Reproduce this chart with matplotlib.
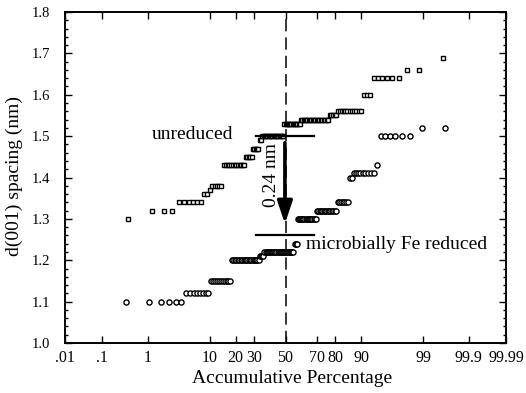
import numpy as np
import matplotlib
matplotlib.use("Agg")
import matplotlib.pyplot as plt
from matplotlib.ticker import MultipleLocator
from statistics import NormalDist

# d(001) values and how many grains sit at each value
unred_d = [1.30, 1.32, 1.34, 1.36, 1.37, 1.38, 1.43, 1.45, 1.47, 1.49,
           1.50, 1.53, 1.54, 1.55, 1.56, 1.60, 1.64, 1.66, 1.69]
unred_n = [1, 3, 6, 2, 1, 5, 13, 5, 5, 2, 18, 14, 21, 5, 12, 3, 6, 2, 1]

red_d = [1.10, 1.12, 1.15, 1.20, 1.21, 1.22, 1.24, 1.30, 1.32, 1.34,
         1.40, 1.41, 1.43, 1.50, 1.52]
red_n = [6, 8, 11, 21, 4, 28, 3, 17, 15, 7, 2, 9, 1, 6, 2]

# medians
unred_med = 1.50
red_med = 1.26

tick_pos = [0.01, 0.1, 1, 10, 20, 30, 50, 70, 80, 90, 99, 99.9, 99.99]
tick_lab = ['.01', '.1', '1', '10', '20', '30', '50', '70', '80', '90',
            '99', '99.9', '99.99']

ND = NormalDist()


def _fwd(p):
    p = np.asarray(p, dtype=float)
    out = np.full(p.shape, np.nan)
    ok = np.isfinite(p)
    q = np.clip(p[ok] / 100.0, 1e-9, 1 - 1e-9)
    out[ok] = [ND.inv_cdf(v) for v in q.ravel()]
    return out


def _inv(z):
    z = np.asarray(z, dtype=float)
    out = np.full(z.shape, np.nan)
    ok = np.isfinite(z)
    out[ok] = [ND.cdf(v) * 100.0 for v in z[ok].ravel()]
    return out


def cum_pct(d, n):
    vals = np.repeat(d, n)
    N = len(vals)
    pct = (np.arange(1, N + 1) - 0.5) / N * 100.0
    return pct, vals


def main():
    plt.rcParams['font.family'] = ['Liberation Serif', 'DejaVu Serif']

    fig = plt.figure(figsize=(5.26, 3.93), dpi=100)
    ax = fig.add_axes([0.1236, 0.1272, 0.8384, 0.8422])
    ax.set_xscale('function', functions=(_fwd, _inv))

    x1, y1 = cum_pct(unred_d, unred_n)
    x2, y2 = cum_pct(red_d, red_n)

    ax.plot(x1, y1, ls='none', marker='s', ms=3.3, mfc='white',
            mec='black', mew=1.0)
    ax.plot(x2, y2, ls='none', marker='o', ms=3.7, mfc='white',
            mec='black', mew=1.0)

    # median guide lines
    ax.axvline(50, color='black', lw=1.1, dashes=(8, 4))
    ax.plot([30.7, 68.5], [unred_med, unred_med], color='black', lw=1.6)
    ax.plot([30.7, 68.5], [red_med, red_med], color='black', lw=1.6)

    ax.annotate('', xy=(49.6, 1.288), xytext=(49.6, 1.484),
                arrowprops=dict(arrowstyle='-|>,head_length=0.75,head_width=0.25',
                                lw=2.6, color='black', mutation_scale=18,
                                shrinkA=0, shrinkB=0))

    ax.text(40.7, 1.405, '0.24 nm', rotation=90, ha='center', va='center',
            fontsize=14)
    ax.text(1.2, 1.505, 'unreduced', ha='left', va='center', fontsize=14)
    ax.text(63.7, 1.237, 'microbially Fe reduced', ha='left', va='center',
            fontsize=14)

    ax.set_xlim(0.01, 99.99)
    ax.set_ylim(1.0, 1.8)
    ax.set_xticks(tick_pos)
    ax.set_xticklabels(tick_lab)
    ax.xaxis.set_minor_locator(plt.NullLocator())
    ax.yaxis.set_major_locator(MultipleLocator(0.1))
    ax.yaxis.set_minor_locator(MultipleLocator(0.02))
    ax.yaxis.set_major_formatter(plt.FormatStrFormatter('%.1f'))

    ax.tick_params(which='both', direction='in', top=True, right=True,
                   width=1)
    ax.tick_params(which='major', length=5)
    ax.tick_params(which='minor', length=2.5)
    ax.tick_params(axis='x', labelsize=11.5, pad=5)
    ax.tick_params(axis='y', labelsize=10.5, pad=11)
    for s in ax.spines.values():
        s.set_linewidth(1.4)

    ax.set_xlabel('Accumulative Percentage', fontsize=14)
    ax.set_ylabel('d(001) spacing (nm)', fontsize=14)
    ax.xaxis.set_label_coords(0.515, -0.082)
    ax.yaxis.set_label_coords(-0.095, 0.505)

    fig.savefig('out.png', dpi=100)


main()
